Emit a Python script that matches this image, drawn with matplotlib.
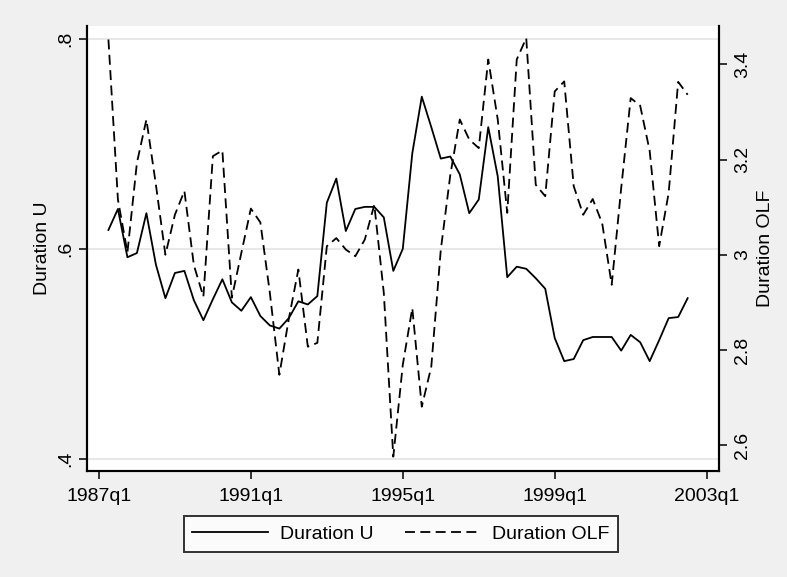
import matplotlib

matplotlib.use("Agg")
import matplotlib.pyplot as plt
import pandas as pd

# quarterly series, 1987q2 .. 2002q3
QUARTERS = pd.period_range("1987Q2", "2002Q3", freq="Q")

DURATION_U = [
    0.618, 0.638, 0.592, 0.596, 0.634, 0.585, 0.553, 0.577, 0.579, 0.551,
    0.532, 0.552, 0.571, 0.549, 0.541, 0.554, 0.536, 0.527, 0.524, 0.534,
    0.550, 0.547, 0.555, 0.644, 0.667, 0.617, 0.638, 0.640, 0.640, 0.630,
    0.579, 0.600, 0.691, 0.745, 0.716, 0.686, 0.688, 0.671, 0.634, 0.647,
    0.716, 0.669, 0.573, 0.583, 0.581, 0.572, 0.562, 0.515, 0.493, 0.495,
    0.513, 0.516, 0.516, 0.516, 0.503, 0.518, 0.511, 0.493, 0.513, 0.534,
    0.535, 0.553,
]

DURATION_OLF = [
    3.452, 3.116, 3.005, 3.193, 3.284, 3.147, 3.000, 3.084, 3.134, 2.978,
    2.912, 3.207, 3.219, 2.910, 3.004, 3.097, 3.068, 2.920, 2.748, 2.866,
    2.969, 2.807, 2.815, 3.018, 3.035, 3.011, 2.997, 3.032, 3.105, 2.920,
    2.576, 2.769, 2.888, 2.681, 2.765, 3.010, 3.167, 3.284, 3.242, 3.224,
    3.410, 3.284, 3.088, 3.410, 3.455, 3.147, 3.123, 3.343, 3.364, 3.144,
    3.084, 3.117, 3.066, 2.937, 3.140, 3.329, 3.313, 3.218, 3.018, 3.130,
    3.363, 3.336,
]

X_TICKS = ["1987Q1", "1991Q1", "1995Q1", "1999Q1", "2003Q1"]
LEFT_TICKS = [0.4, 0.6, 0.8]
LEFT_LABELS = [".4", ".6", ".8"]
RIGHT_TICKS = [2.6, 2.8, 3.0, 3.2, 3.4]
RIGHT_LABELS = ["2.6", "2.8", "3", "3.2", "3.4"]

BG = "#f0f0f0"
GRID = "#e6e6e6"


def tq(period: pd.Period) -> int:
    # Stata-style quarter count, 1960q1 = 0
    return (period.year - 1960) * 4 + period.quarter - 1


def tq_label(period: pd.Period) -> str:
    return f"{period.year}q{period.quarter}"


def main() -> None:
    plt.rcParams["font.family"] = ["Liberation Sans", "DejaVu Sans"]
    plt.rcParams["font.size"] = 14

    x = [tq(p) for p in QUARTERS]
    tick_periods = [pd.Period(t, freq="Q") for t in X_TICKS]

    fig = plt.figure(figsize=(7.87, 5.77), dpi=100, facecolor=BG)
    ax = fig.add_axes([0.1105, 0.1837, 0.8031, 0.7713])
    ax.set_facecolor("white")
    ax2 = ax.twinx()

    for a in (ax, ax2):
        a.spines["top"].set_visible(False)
        for side in ("left", "right", "bottom"):
            a.spines[side].set_linewidth(1.5)
        a.tick_params(length=6, width=1.1, direction="out")

    ax.set_yticks(LEFT_TICKS)
    ax.set_yticklabels(LEFT_LABELS, rotation=90, va="center")
    ax.tick_params(axis="y", pad=3)
    ax.yaxis.grid(True, color=GRID, linewidth=1.3)
    ax.set_axisbelow(True)
    ax.set_ylim(0.3883, 0.8124)
    ax.set_ylabel("Duration U", labelpad=5)

    ax2.set_yticks(RIGHT_TICKS)
    ax2.set_yticklabels(RIGHT_LABELS, rotation=90, va="center")
    ax2.tick_params(axis="y", pad=5)
    ax2.set_ylim(2.546, 3.4804)
    ax2.set_ylabel("Duration OLF", rotation=90, labelpad=4)

    ax.set_xticks([tq(p) for p in tick_periods])
    ax.set_xticklabels([tq_label(p) for p in tick_periods])
    ax.set_xlim(106.74, 173.30)
    ax.tick_params(axis="x", pad=6)

    (line_u,) = ax.plot(x, DURATION_U, color="black", linewidth=1.3,
                        label="Duration U")
    (line_olf,) = ax2.plot(x, DURATION_OLF, color="black", linewidth=1.3,
                           linestyle=(0, (5.5, 3)), label="Duration OLF")

    leg = fig.legend(
        handles=[line_u, line_olf],
        loc="center",
        bbox_to_anchor=(0.5095, 0.0745),
        ncol=2,
        frameon=True,
        fancybox=False,
        edgecolor="black",
        handlelength=3.9,
        handletextpad=0.6,
        columnspacing=1.6,
        borderpad=0.45,
    )
    leg.get_frame().set_linewidth(1.4)
    leg.get_frame().set_facecolor("white")

    fig.savefig("out.png", dpi=100, facecolor=BG)
    plt.close(fig)


if __name__ == "__main__":
    main()
